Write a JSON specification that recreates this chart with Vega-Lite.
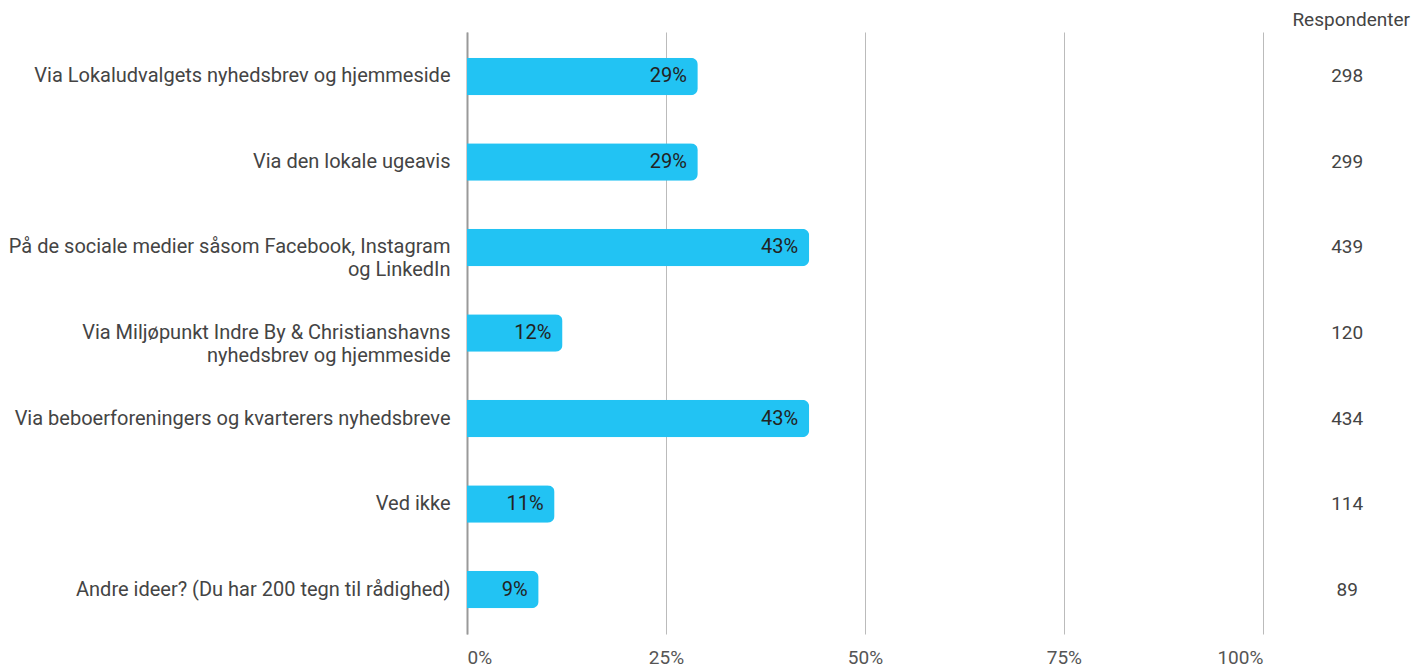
{
  "$schema": "https://vega.github.io/schema/vega-lite/v6.json",
  "width": 955,
  "height": 602,
  "autosize": {"type": "pad"},
  "padding": {"left": 8, "top": 11, "right": 0, "bottom": 0},
  "config": {"view": {"stroke": null}, "font": "Roboto"},
  "title": {"text": "Respondenter", "anchor": "end", "fontSize": 19, "fontWeight": "normal", "color": "#444", "dx": -12, "offset": 2},
  "data": {"values": [
    {"label": "Via Lokaludvalgets nyhedsbrev og hjemmeside", "pct": 0.29, "txt": "29%", "n": 298},
    {"label": "Via den lokale ugeavis", "pct": 0.29, "txt": "29%", "n": 299},
    {"label": "På de sociale medier såsom Facebook, Instagram|og LinkedIn", "pct": 0.43, "txt": "43%", "n": 439},
    {"label": "Via Miljøpunkt Indre By & Christianshavns|nyhedsbrev og hjemmeside", "pct": 0.12, "txt": "12%", "n": 120},
    {"label": "Via beboerforeningers og kvarterers nyhedsbreve", "pct": 0.43, "txt": "43%", "n": 434},
    {"label": "Ved ikke", "pct": 0.11, "txt": "11%", "n": 114},
    {"label": "Andre ideer? (Du har 200 tegn til rådighed)", "pct": 0.09, "txt": "9%", "n": 89}
  ]},
  "encoding": {
    "y": {"field": "label", "type": "nominal", "sort": null, "title": null,
      "scale": {"paddingInner": 0.56, "paddingOuter": 0.3},
      "axis": {"labelExpr": "split(datum.label, '|')", "labelFontSize": 20, "labelColor": "#444", "labelPadding": 17, "ticks": false, "domainColor": "#999", "domainWidth": 2, "labelLineHeight": 23, "labelLimit": 600}}
  },
  "layer": [
    {"mark": {"type": "bar", "color": "#22C3F3", "cornerRadiusEnd": 7},
     "encoding": {"x": {"field": "pct", "type": "quantitative", "title": null,
       "scale": {"domain": [0, 1.2], "nice": false},
       "axis": {"values": [0, 0.25, 0.5, 0.75, 1], "format": ".0%", "grid": true, "gridColor": "#bbb", "gridWidth": 1, "domain": false, "ticks": false, "labelFontSize": 19, "labelColor": "#555", "labelPadding": 14,
         "labelAlign": {"condition": [{"test": "datum.value == 0", "value": "left"}, {"test": "datum.value == 1", "value": "right"}], "value": "center"}}}}},
    {"mark": {"type": "text", "align": "right", "dx": -11, "fontSize": 20, "color": "#222"},
     "encoding": {"x": {"field": "pct", "type": "quantitative"}, "text": {"field": "txt"}}},
    {"mark": {"type": "text", "align": "center", "fontSize": 19, "color": "#444"},
     "encoding": {"x": {"datum": 1.106, "type": "quantitative"}, "text": {"field": "n"}}}
  ]
}
